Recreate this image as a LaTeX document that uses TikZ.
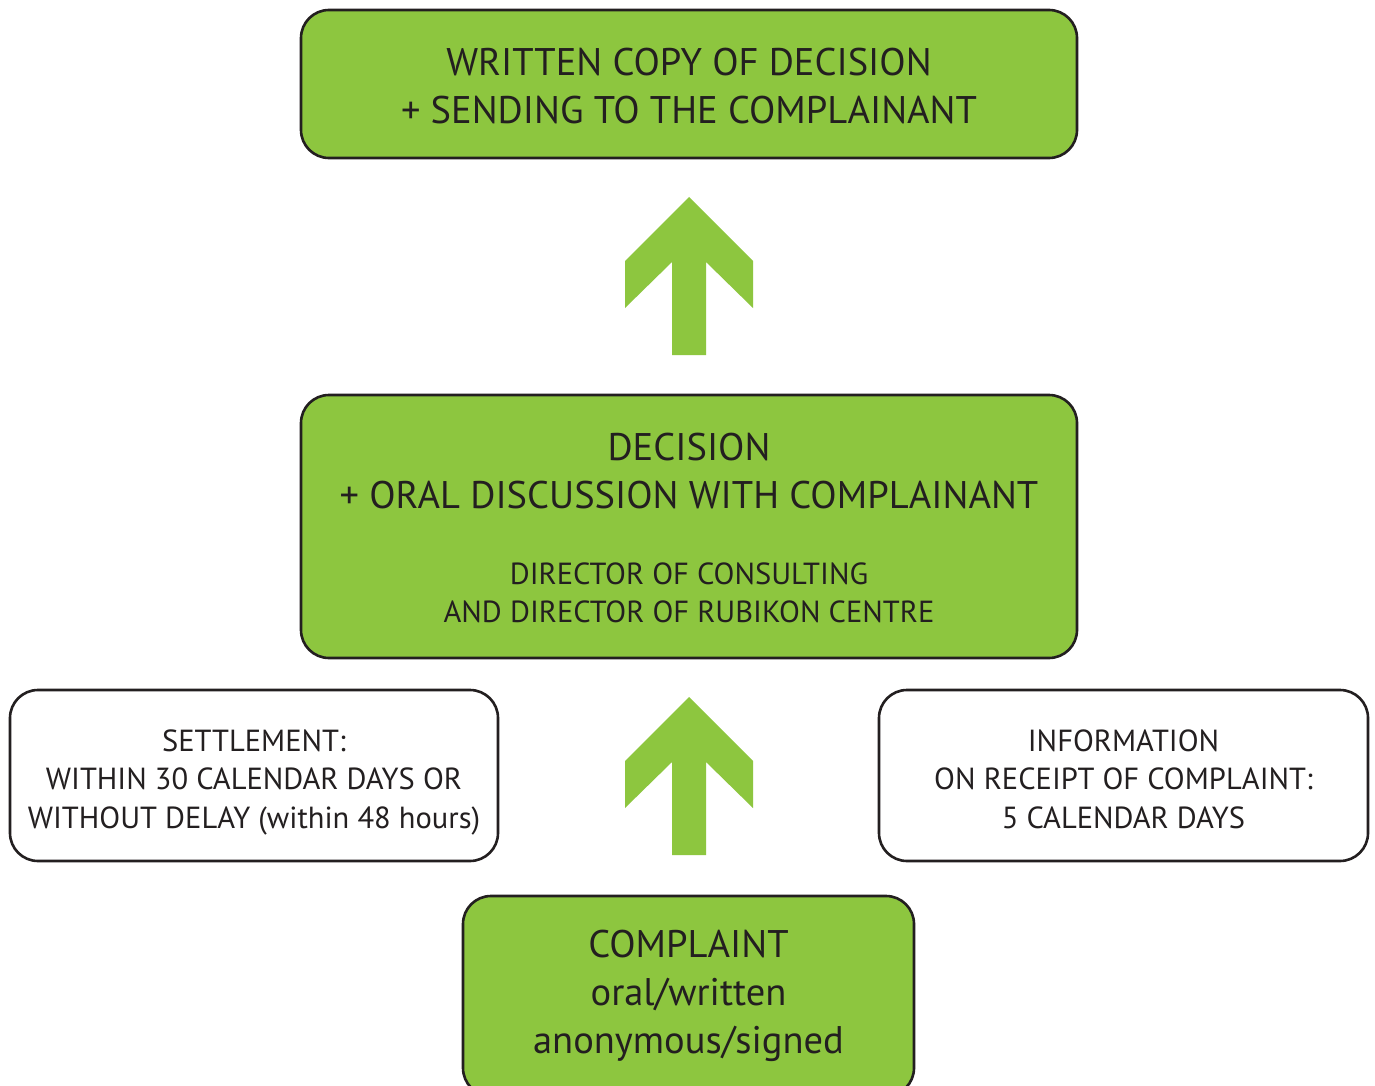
\documentclass[tikz,border=0pt]{standalone}
\usepackage{fontspec}
\setmainfont{PT Sans}
\definecolor{leaf}{HTML}{8DC63F}
\definecolor{ink}{HTML}{231F20}
\begin{document}
\begin{tikzpicture}[x=1pt,y=-1pt,
  box/.style={draw=ink,line width=2.6pt,rounded corners=28pt,align=center,text=ink,inner sep=0pt},
  greenbox/.style={box,fill=leaf},
  whitebox/.style={box,fill=white},
  big/.style={font=\fontsize{38.5}{48}\selectfont},
  small/.style={font=\fontsize{30.5}{38.5}\selectfont},
  uparrow/.style={fill=leaf,draw=none}]
\clip (0,0) rectangle (1375,1086);
\fill[white] (0,0) rectangle (1375,1086);
% boxes
\node[greenbox,minimum width=776pt,minimum height=148pt] (top) at (689,84) {};
\node[big,text=ink,align=center] (topt) at (689,86) {WRITTEN COPY OF DECISION\\+ SENDING TO THE COMPLAINANT};
\node[greenbox,minimum width=776pt,minimum height=263pt] (mid) at (689,526.5) {};
\node[big,text=ink,align=center] (midt) at (689,471) {DECISION\\+ ORAL DISCUSSION WITH COMPLAINANT};
\node[small,text=ink,align=center] (mids) at (689,593) {DIRECTOR OF CONSULTING\\AND DIRECTOR OF RUBIKON CENTRE};
\node[whitebox,minimum width=488pt,minimum height=171pt] (left) at (254,775.5) {};
\node[small,text=ink,align=center] (leftt) at (254,782) {SETTLEMENT:\\WITHIN 30 CALENDAR DAYS OR\\WITHOUT DELAY (within 48 hours)};
\node[whitebox,minimum width=489pt,minimum height=171pt] (right) at (1123.5,775.5) {};
\node[small,text=ink,align=center] (rightt) at (1123.5,779) {INFORMATION\\ON RECEIPT OF COMPLAINT:\\5 CALENDAR DAYS};
\node[greenbox,big,minimum width=451pt,minimum height=200pt] (bot) at (688.5,996) {COMPLAINT\\oral/written\\anonymous/signed};
% arrows
\fill[uparrow] (689,197) -- (753,261) -- (753,308) -- (706,262) -- (706,355) -- (672,355) -- (672,262) -- (625,308) -- (625,261) -- cycle;
\fill[uparrow] (689,697) -- (753,761) -- (753,808) -- (706,762) -- (706,855) -- (672,855) -- (672,762) -- (625,808) -- (625,761) -- cycle;
\end{tikzpicture}
\end{document}
